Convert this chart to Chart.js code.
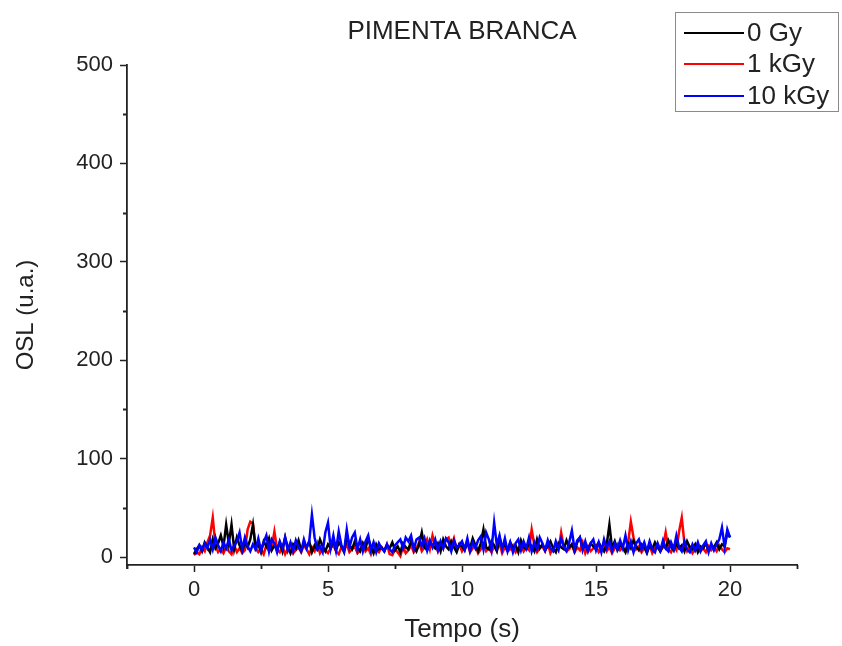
<!DOCTYPE html>
<html>
<head>
<meta charset="utf-8">
<script src="https://cdn.jsdelivr.net/npm/chart.js@4.4.1/dist/chart.umd.min.js"></script>
<style>
  html, body { margin: 0; padding: 0; background: #ffffff; }
  #wrap { width: 842px; height: 646px; position: relative; }
</style>
</head>
<body>
<div id="wrap"><canvas id="osl" width="842" height="646"></canvas></div>
<script>
// OSL decay curves, white pepper, sampled every 0.1 s from 0 to 20 s
const chartTitle = 'PIMENTA BRANCA';
const seriesLabels = ['0 Gy', '1 kGy', '10 kGy'];
const seriesColors = ['#000000', '#ff0000', '#0000ff'];
const sampleStep = 0.1;

const osl0Gy = [
  3, 8, 12, 6, 15, 10, 5, 18, 9, 14,
  22, 11, 33, 14, 33, 8, 20, 12, 6, 15,
  10, 18, 33, 9, 13, 5, 16, 11, 19, 7,
  12, 8, 15, 6, 20, 10, 4, 13, 9, 17,
  7, 14, 10, 16, 5, 12, 8, 18, 11, 6,
  13, 9, 17, 7, 15, 11, 5, 22, 12, 8,
  16, 10, 6, 14, 9, 19, 11, 4, 13, 8,
  10, 6, 12, 9, 15, 7, 11, 5, 14, 10,
  8, 16, 11, 6, 13, 25, 10, 7, 15, 12,
  9, 14, 6, 18, 11, 8, 16, 10, 5, 13,
  11, 7, 15, 9, 19, 12, 6, 14, 28, 10,
  8, 16, 12, 6, 20, 10, 13, 7, 15, 9,
  12, 5, 17, 10, 8, 14, 11, 6, 18, 9,
  13, 7, 11, 16, 9, 5, 14, 10, 8, 17,
  10, 13, 6, 15, 20, 9, 12, 7, 14, 11,
  8, 15, 10, 6, 13, 33, 9, 16, 7, 12,
  10, 5, 14, 9, 17, 11, 7, 13, 10, 4,
  12, 8, 15, 10, 6, 13, 9, 17, 11, 7,
  14, 9, 12, 6, 16, 10, 8, 13, 5, 11,
  9, 14, 7, 12, 10, 15, 8, 13, 11, 25,
  20
];

const osl1kGy = [
  2, 5, 3, 10, 6, 15, 22, 40, 12, 5,
  8, 4, 10, 6, 3, 12, 5, 9, 4, 7,
  28, 36, 34, 10, 5, 8, 3, 12, 6, 10,
  26, 8, 5, 11, 3, 9, 13, 4, 7, 10,
  5, 12, 8, 3, 10, 6, 14, 4, 9, 7,
  4, 9, 12, 6, 3, 10, 7, 13, 5, 8,
  11, 4, 7, 14, 6, 9, 3, 12, 8, 5,
  10, 6, 13, 3, 2, 8, 5, 1, 11, 4,
  7, 12, 5, 9, 15, 6, 10, 18, 8, 22,
  12, 6, 15, 9, 18, 20, 11, 19, 7, 13,
  6, 10, 14, 5, 9, 12, 4, 8, 13, 6,
  9, 5, 11, 7, 14, 4, 10, 6, 8, 12,
  5, 9, 13, 6, 10, 7, 28, 12, 5, 9,
  11, 6, 14, 4, 9, 12, 7, 25, 10, 6,
  8, 13, 5, 10, 7, 15, 4, 11, 6, 9,
  12, 5, 8, 14, 6, 10, 4, 9, 13, 7,
  10, 6, 15, 36, 20, 8, 11, 5, 9, 7,
  12, 4, 9, 13, 6, 10, 25, 8, 5, 11,
  7, 26, 40, 14, 6, 10, 4, 8, 12, 6,
  9, 5, 11, 7, 10, 6, 12, 8, 5, 9,
  8
];

const osl10kGy = [
  10, 5, 12, 7, 14, 9, 18, 8, 20, 12,
  6, 15, 9, 18, 7, 12, 16, 25, 8, 20,
  11, 6, 13, 8, 19, 7, 15, 22, 6, 18,
  14, 5, 16, 9, 20, 7, 15, 6, 17, 10,
  6, 18, 9, 16, 43, 20, 8, 11, 5, 25,
  35, 9, 22, 7, 26, 12, 6, 28, 10, 20,
  25, 8, 18, 6, 16, 22, 7, 15, 5, 14,
  9, 6, 13, 8, 5, 12, 15, 18, 9, 20,
  16, 22, 8, 18, 20, 11, 19, 7, 17, 10,
  18, 7, 16, 9, 19, 15, 6, 17, 10, 12,
  16, 8, 19, 6, 15, 9, 17, 21, 8, 25,
  18, 7, 35, 12, 22, 8, 19, 6, 15, 5,
  14, 18, 7, 16, 9, 20, 6, 15, 8, 20,
  14, 7, 17, 9, 6, 16, 8, 19, 10, 6,
  15, 27, 8, 17, 20, 7, 16, 6, 14, 18,
  7, 15, 5, 18, 9, 16, 6, 14, 8, 17,
  9, 22, 7, 16, 5, 14, 18, 8, 15, 6,
  16, 8, 5, 14, 7, 17, 9, 6, 15, 8,
  22, 10, 6, 16, 8, 5, 13, 7, 15, 6,
  12, 16, 5, 14, 7, 13, 18, 30, 10, 28,
  20
];

const xMajorTicks = [0, 5, 10, 15, 20];
const xMinorTicks = [-2.5, 2.5, 7.5, 12.5, 17.5, 22.5];
const yMajorTicks = [0, 100, 200, 300, 400, 500];
const yMinorTicks = [50, 150, 250, 350, 450];

const FONT = 'Arial, "Liberation Sans", Helvetica, sans-serif';
const AXIS_COLOR = '#222222';
const TEXT_COLOR = '#222222';

function toPoints(values) {
  return values.map((v, i) => ({ x: Math.round(i * sampleStep * 10) / 10, y: v }));
}

const seriesValues = [osl0Gy, osl1kGy, osl10kGy];
const drawOrder = [1, 2, 0]; // blue on top, then black, then red

const datasets = seriesValues.map((vals, i) => ({
  label: seriesLabels[i],
  data: toPoints(vals),
  borderColor: seriesColors[i],
  backgroundColor: seriesColors[i],
  borderWidth: 2.5,
  pointRadius: 0,
  tension: 0,
  fill: false,
  order: drawOrder[i]
}));

// Minor tick marks on both axes
const minorTicks = {
  id: 'minorTicks',
  afterDraw(chart) {
    const ctx = chart.ctx;
    const xs = chart.scales.x, ys = chart.scales.y;
    ctx.save();
    ctx.strokeStyle = AXIS_COLOR;
    ctx.lineWidth = 1.5;
    ctx.beginPath();
    xMinorTicks.forEach(t => {
      const px = Math.round(xs.getPixelForValue(t)) + 0.5;
      ctx.moveTo(px, xs.top);
      ctx.lineTo(px, xs.top + 4);
    });
    yMinorTicks.forEach(t => {
      const py = Math.round(ys.getPixelForValue(t)) + 0.5;
      ctx.moveTo(ys.right, py);
      ctx.lineTo(ys.right - 4, py);
    });
    // the vertical axis runs a little past the horizontal one
    ctx.lineWidth = 1.8;
    ctx.moveTo(ys.right, xs.top);
    ctx.lineTo(ys.right, xs.top + 4);
    ctx.stroke();
    ctx.restore();
  }
};

// Title and boxed legend in the top right corner
const titleAndLegend = {
  id: 'titleAndLegend',
  afterDraw(chart) {
    const ctx = chart.ctx;
    const area = chart.chartArea;
    ctx.save();
    ctx.fillStyle = TEXT_COLOR;
    ctx.font = '26px ' + FONT;
    ctx.textAlign = 'center';
    ctx.textBaseline = 'middle';
    ctx.fillText(chartTitle, (area.left + area.right) / 2, 32);

    const box = { x: 675.5, y: 12.5, w: 163, h: 99 };
    ctx.fillStyle = '#ffffff';
    ctx.fillRect(box.x, box.y, box.w, box.h);
    ctx.strokeStyle = '#8a8a8a';
    ctx.lineWidth = 1;
    ctx.strokeRect(box.x, box.y, box.w, box.h);

    const rows = [33, 64, 96];
    ctx.textAlign = 'left';
    ctx.font = '26px ' + FONT;
    chart.data.datasets.forEach((ds, i) => {
      const y = rows[i];
      ctx.strokeStyle = ds.borderColor;
      ctx.lineWidth = 2.2;
      ctx.beginPath();
      ctx.moveTo(684, y);
      ctx.lineTo(744, y);
      ctx.stroke();
      ctx.fillStyle = TEXT_COLOR;
      ctx.fillText(ds.label, 747, y + 1);
    });
    ctx.restore();
  }
};

new Chart(document.getElementById('osl'), {
  type: 'line',
  data: { datasets },
  options: {
    responsive: false,
    animation: false,
    devicePixelRatio: 1,
    layout: { padding: { top: 65, right: 45, left: 0, bottom: 0 } },
    plugins: {
      legend: { display: false },
      title: { display: false },
      tooltip: { enabled: false }
    },
    scales: {
      x: {
        type: 'linear',
        min: -2.5,
        max: 22.5,
        afterFit(scale) { scale.height = 81; },
        afterBuildTicks(scale) { scale.ticks = xMajorTicks.map(v => ({ value: v })); },
        grid: {
          display: true,
          drawOnChartArea: false,
          drawTicks: true,
          tickLength: 7,
          tickColor: AXIS_COLOR,
          tickWidth: 1.5
        },
        border: { display: true, color: AXIS_COLOR, width: 1.8 },
        ticks: {
          color: TEXT_COLOR,
          font: { family: FONT, size: 22 },
          padding: 5,
          maxRotation: 0
        },
        title: {
          display: true,
          text: 'Tempo (s)',
          color: TEXT_COLOR,
          font: { family: FONT, size: 26 },
          padding: { top: 0, bottom: 1 }
        }
      },
      y: {
        type: 'linear',
        min: -8,
        max: 500,
        afterFit(scale) { scale.width = 127; },
        afterBuildTicks(scale) { scale.ticks = yMajorTicks.map(v => ({ value: v })); },
        grid: {
          display: true,
          drawOnChartArea: false,
          drawTicks: true,
          tickLength: 7,
          tickColor: AXIS_COLOR,
          tickWidth: 1.5
        },
        border: { display: true, color: AXIS_COLOR, width: 1.8 },
        ticks: {
          color: TEXT_COLOR,
          font: { family: FONT, size: 22 },
          padding: 7
        },
        title: {
          display: true,
          text: 'OSL (u.a.)',
          color: TEXT_COLOR,
          font: { family: FONT, size: 24 },
          padding: { top: 12, bottom: 0 }
        }
      }
    }
  },
  plugins: [minorTicks, titleAndLegend]
});
</script>
</body>
</html>
